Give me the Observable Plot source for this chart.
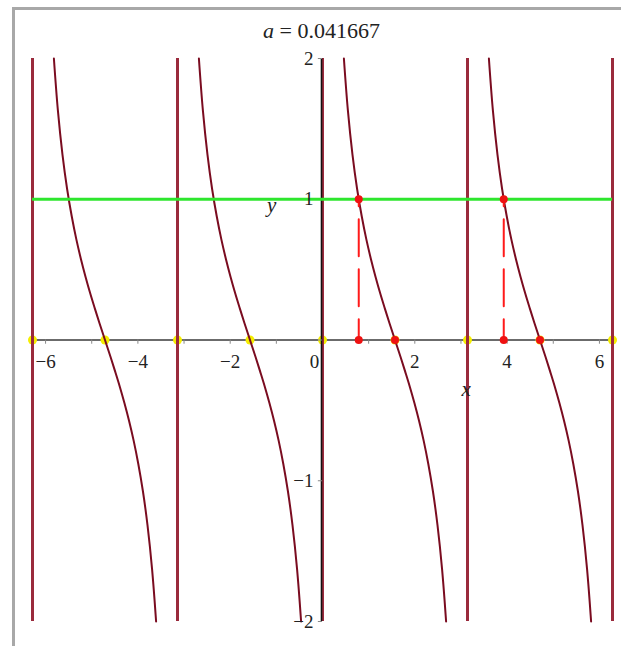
<!DOCTYPE html>
<html>
<head>
<meta charset="utf-8">
<script src="https://cdn.jsdelivr.net/npm/d3@7"></script>
<script src="https://cdn.jsdelivr.net/npm/@observablehq/plot@0.6"></script>
<style>
  html, body { margin: 0; padding: 0; background: #fff; overflow: hidden; }
  #wrap { position: relative; width: 621px; height: 646px; overflow: hidden; }
  #frame { position: absolute; left: 12px; top: 7px; width: 700px; height: 700px;
           border-left: 3px solid #a8a8a8; border-top: 3px solid #a8a8a8; }
  #title { position: relative; height: 50px; box-sizing: border-box; padding-top: 19px;
           padding-left: 22px; text-align: center; line-height: 24px;
           font-family: "Liberation Serif", "Times New Roman", serif; font-size: 22px; color: #222; }
  #chart { position: relative; }
</style>
</head>
<body>
<div id="wrap">
  <div id="frame"></div>
  <div id="title"><i>a</i> = 0.041667</div>
  <div id="chart"></div>
</div>
<script>
// Left edge of each cot branch (one branch per period)
const branchStarts = [-6.2832, -3.1416, 0, 3.1416];
// Shape of one branch: offset from its left asymptote, and y
const branchX = [0.4636, 0.55, 0.65, 0.75, 0.85, 0.95, 1.05, 1.15, 1.25, 1.35, 1.45, 1.5708,
                 1.6916, 1.7916, 1.8916, 1.9916, 2.0916, 2.1916, 2.2916, 2.3916, 2.4916, 2.5916, 2.678];
const branchY = [2, 1.631, 1.315, 1.073, 0.879, 0.715, 0.574, 0.448, 0.332, 0.225, 0.121, 0,
                 -0.121, -0.225, -0.332, -0.448, -0.574, -0.715, -0.879, -1.073, -1.315, -1.631, -2];
// Vertical asymptotes
const asymptotes = [-6.2832, -3.1416, 0, 3.1416, 6.2832];
// Horizontal level y = 1 and where the curve meets it
const level = 1;
const crossingsX = [0.7854, 3.927];
// Zeros of the curve inside (0, 2π)
const zerosX = [1.5708, 4.7124];
// Marked points on the x axis
const axisPointsX = [-6.2832, -4.7124, -3.1416, -1.5708, 0, 1.5708, 3.1416, 4.7124, 6.2832];
// Axis ticks and labels
const xTicks = [-6, -5, -4, -3, -2, -1, 0, 1, 2, 3, 4, 5, 6];
const xLabels = [-6, -4, -2, 2, 4, 6];
const yTicks = [-2, -1, 0, 1, 2];
const yLabels = [-2, -1, 1, 2];

const curve = branchStarts.flatMap(s => branchX.map((bx, i) => ({x: s + bx, y: branchY[i], branch: s})));
const drops = crossingsX.flatMap(cx => [{x: cx, y: level, k: cx}, {x: cx, y: 0, k: cx}]);
const redDots = [
  ...crossingsX.map(cx => ({x: cx, y: level})),
  ...crossingsX.map(cx => ({x: cx, y: 0})),
  ...zerosX.map(zx => ({x: zx, y: 0}))
];
const minus = n => n < 0 ? "\u2212" + Math.abs(n) : String(n);

const serif = "Liberation Serif, Times New Roman, serif";
const maroon = "#7a0c20";

const chart = Plot.plot({
  width: 621,
  height: 596,
  marginLeft: 32,
  marginRight: 9,
  marginTop: 8,
  marginBottom: 25,
  x: {domain: [-6.2832, 6.2832], axis: null},
  y: {domain: [-2, 2], axis: null},
  style: {fontFamily: serif, background: "transparent", overflow: "visible"},
  marks: [
    // x axis line and ticks
    Plot.ruleY([0], {stroke: "#3a3a3a", strokeWidth: 1.3}),
    Plot.ruleX(xTicks, {x: d => d, y1: 0, y2: -0.03, stroke: "#888", strokeWidth: 1}),
    // points marked on the axis
    Plot.dot(axisPointsX, {x: d => d, y: 0, r: 4.5, fill: "#f5ee00", stroke: "none"}),
    // asymptotes
    Plot.ruleX(asymptotes, {x: d => d, y1: -2, y2: 2, stroke: "#9a2a3c", strokeWidth: 3}),
    // y axis line and ticks
    Plot.ruleX([0], {y1: -2, y2: 2, stroke: "#111", strokeWidth: 1.6, dx: -1}),
    Plot.ruleY(yTicks, {y: d => d, x1: 0, x2: -0.09, stroke: "#888", strokeWidth: 1}),
    // cot branches
    Plot.line(curve, {x: "x", y: "y", z: "branch", stroke: maroon, strokeWidth: 2, curve: "catmull-rom"}),
    // level line
    Plot.ruleY([level], {stroke: "#2ee62e", strokeWidth: 3}),
    // dashed drops from the crossings to the axis
    Plot.line(drops, {x: "x", y: "y", z: "k", stroke: "#ff1a1a", strokeWidth: 2,
                      strokeDasharray: "37,13", strokeDashoffset: 30}),
    Plot.dot(redDots, {x: "x", y: "y", r: 4, fill: "#ee1111", stroke: "none"}),
    // tick labels
    Plot.text(xLabels, {x: d => d, y: 0, text: minus, dy: 22, fontSize: 19, fill: "#222"}),
    Plot.text([0], {x: 0, y: 0, text: d => String(d), dy: 22, dx: -8, fontSize: 19, fill: "#222"}),
    Plot.text(yLabels, {x: 0, y: d => d, text: minus, textAnchor: "end", dx: -9, fontSize: 19, fill: "#222"}),
    // axis names
    Plot.text(["x"], {x: 3.11, y: -0.35, text: d => d, fontSize: 21, fontStyle: "italic", fill: "#222"}),
    Plot.text(["y"], {x: -1.1, y: 0.96, text: d => d, fontSize: 21, fontStyle: "italic", fill: "#222"})
  ]
});
document.getElementById("chart").append(chart);
</script>
</body>
</html>
